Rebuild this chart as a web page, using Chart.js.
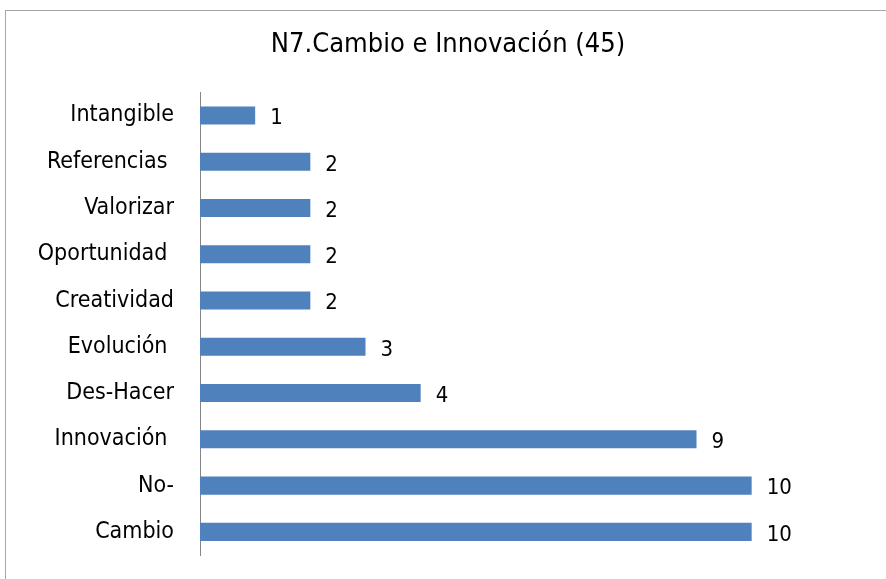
<!DOCTYPE html>
<html>
<head>
<meta charset="utf-8">
<script src="https://cdn.jsdelivr.net/npm/chart.js@4.4.1/dist/chart.umd.min.js"></script>
<style>
  html, body { margin: 0; padding: 0; background: #fff; }
  #wrap { position: relative; width: 886px; height: 579px; overflow: hidden; }
  #frame {
    position: absolute; left: 5px; top: 10px; width: 900px; height: 600px;
    border: 1px solid #a6a6a6; box-sizing: border-box;
  }
  canvas { position: absolute; left: 0; top: 0; }
</style>
</head>
<body>
<div id="wrap">
  <div id="frame"></div>
  <canvas id="chart" width="886" height="579"></canvas>
</div>
<script>
const TITLE = "N7.Cambio e Innovación (45)";
const CATEGORIES = [
  "Intangible", "Referencias ", "Valorizar", "Oportunidad ", "Creatividad",
  "Evolución ", "Des-Hacer", "Innovación ", "No-", "Cambio",
];
const VALUES = [1, 2, 2, 2, 2, 3, 4, 9, 10, 10];
const X_MIN = 0;
const X_MAX = 12;

const FONT = "'DejaVu Sans Condensed', 'Open Sans', sans-serif";

// draws the number at the end of each bar
const valueLabels = {
  id: "valueLabels",
  afterDatasetsDraw(chart) {
    const { ctx } = chart;
    const meta = chart.getDatasetMeta(0);
    ctx.save();
    ctx.font = `22px ${FONT}`;
    ctx.fillStyle = "#000";
    ctx.textAlign = "left";
    ctx.textBaseline = "middle";
    meta.data.forEach((bar, i) => {
      ctx.fillText(String(VALUES[i]), bar.x + 15, bar.y + 3);
    });
    ctx.restore();
  },
};

const ctx = document.getElementById("chart").getContext("2d");
new Chart(ctx, {
  type: "bar",
  data: {
    labels: CATEGORIES,
    datasets: [
      {
        data: VALUES,
        backgroundColor: "#4f81bd",
        borderWidth: 0,
        barPercentage: 0.39,
        categoryPercentage: 1,
      },
    ],
  },
  options: {
    indexAxis: "y",
    responsive: false,
    animation: false,
    layout: {
      padding: { left: 34, right: 24, top: 0, bottom: 24 },
    },
    plugins: {
      legend: { display: false },
      tooltip: { enabled: false },
      title: {
        display: true,
        text: TITLE,
        color: "#000",
        font: { family: FONT, size: 27, weight: "normal" },
        padding: { top: 29, bottom: 31 },
      },
    },
    scales: {
      x: {
        display: false,
        min: X_MIN,
        max: X_MAX,
      },
      y: {
        grid: { display: false, drawTicks: false },
        border: { display: true, color: "#868686", width: 1 },
        ticks: {
          color: "#000",
          padding: 26,
          font: { family: FONT, size: 23 },
        },
        afterFit: (scale) => {
          scale.width = 166;
          scale.paddingTop = 0;
          scale.paddingBottom = 0;
        },
      },
    },
  },
  plugins: [valueLabels],
});
</script>
</body>
</html>
